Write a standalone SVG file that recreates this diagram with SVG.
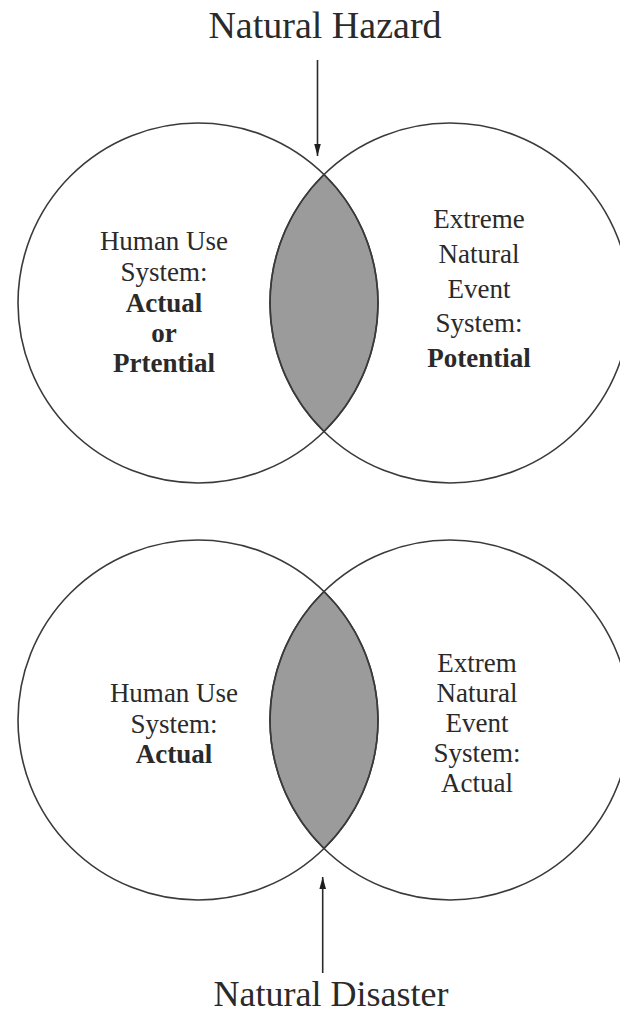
<svg xmlns="http://www.w3.org/2000/svg" width="620" height="1012" viewBox="0 0 620 1012">
<defs>
<style>
.c{fill:none;stroke:#3a3a3a;stroke-width:1.6}
.lens{fill:#9b9b9b;stroke:#3a3a3a;stroke-width:1.6}
.t{font-family:"Liberation Serif","Times New Roman",serif;font-size:27px;fill:#2a2a2a;text-anchor:middle}
.b{font-weight:bold}
.title{font-family:"Liberation Serif","Times New Roman",serif;font-size:38px;fill:#2a2a2a;text-anchor:middle}
.arr{stroke:#2a2a2a;stroke-width:1.6;fill:none}
</style>
<marker id="ah" markerUnits="userSpaceOnUse" markerWidth="12" markerHeight="22" refX="20" refY="5.5" orient="auto" viewBox="0 0 20 11">
<path d="M0,0 L20,5.5 L0,11 Z" fill="#1e1e1e"/>
</marker>
</defs>
<rect width="620" height="1012" fill="#ffffff"/>

<g id="hazard-title"><text class="title" x="325" y="38">Natural Hazard</text></g>

<g id="hazard-overlap"><path class="lens" d="M324,174.45 A180,180 0 0,1 324,431.55 A180,180 0 0,1 324,174.45 Z"/></g>
<g id="hazard-human"><circle class="c" cx="198" cy="303" r="180"/>
<text class="t" x="164" y="250">Human Use</text>
<text class="t" x="164" y="281">System:</text>
<text class="t b" x="164" y="312">Actual</text>
<text class="t b" x="164" y="342">or</text>
<text class="t b" x="164" y="372">Prtential</text></g>
<g id="hazard-natural"><circle class="c" cx="450" cy="303" r="180"/>
<text class="t" x="479" y="228">Extreme</text>
<text class="t" x="479" y="263">Natural</text>
<text class="t" x="479" y="298">Event</text>
<text class="t" x="479" y="332">System:</text>
<text class="t b" x="479" y="367">Potential</text></g>

<g id="disaster-overlap"><path class="lens" d="M324,591.45 A180,180 0 0,1 324,848.55 A180,180 0 0,1 324,591.45 Z"/></g>
<g id="disaster-human"><circle class="c" cx="198" cy="720" r="180"/>
<text class="t" x="174" y="702">Human Use</text>
<text class="t" x="174" y="733">System:</text>
<text class="t b" x="174" y="763">Actual</text></g>
<g id="disaster-natural"><circle class="c" cx="450" cy="720" r="180"/>
<text class="t" x="477" y="672">Extrem</text>
<text class="t" x="477" y="702">Natural</text>
<text class="t" x="477" y="732">Event</text>
<text class="t" x="477" y="762">System:</text>
<text class="t" x="477" y="792">Actual</text></g>

<g id="disaster-title"><text class="title" x="331" y="1006" style="font-size:36px">Natural Disaster</text></g>

<g id="connectors">
<line class="arr" x1="317.5" y1="60" x2="317.5" y2="156" marker-end="url(#ah)"/>
<line class="arr" x1="322.7" y1="973" x2="322.7" y2="877" marker-end="url(#ah)"/>
</g>
</svg>
